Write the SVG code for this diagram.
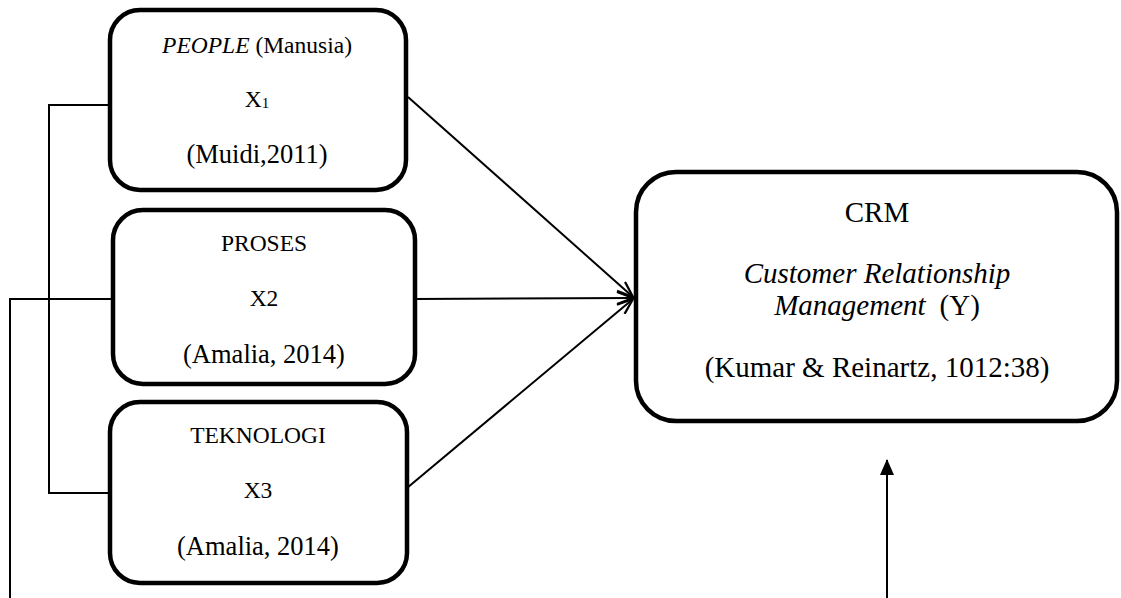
<svg xmlns="http://www.w3.org/2000/svg" width="1121" height="598" viewBox="0 0 1121 598">
<style>
.box{fill:#fff;stroke:#000;stroke-width:4.5}
.t{font-family:"Liberation Serif","Times New Roman",serif;fill:#000;text-anchor:middle}
.s{font-size:23.5px}
.b{font-size:26.5px}
.c{font-size:29px}
.ln{stroke:#000;stroke-width:2;fill:none}
</style>
<defs>
<marker id="open" viewBox="0 0 18 14" refX="17" refY="7" markerWidth="18" markerHeight="14" markerUnits="userSpaceOnUse" orient="auto">
<path d="M1,1 L17,7 L1,13" fill="none" stroke="#000" stroke-width="2.2"/>
</marker>
<marker id="solid" viewBox="0 0 16 14" refX="15" refY="7" markerWidth="16" markerHeight="14" markerUnits="userSpaceOnUse" orient="auto">
<path d="M0,0 L16,7 L0,14 Z" fill="#000"/>
</marker>
</defs>
<g id="connectors">
<path class="ln" d="M110,105 H49 V493 H110"/>
<path class="ln" d="M113,299 H10 V598"/>
<line class="ln" x1="408" y1="97" x2="633" y2="297" marker-end="url(#open)"/>
<line class="ln" x1="415" y1="299" x2="633" y2="298" marker-end="url(#open)"/>
<line class="ln" x1="407" y1="488" x2="633" y2="299" marker-end="url(#open)"/>
<line class="ln" x1="887" y1="598" x2="887" y2="460" marker-end="url(#solid)"/>
</g>
<g id="people">
<rect class="box" x="110" y="10" width="296" height="180" rx="30"/>
<text class="t s" x="257" y="53"><tspan font-style="italic">PEOPLE</tspan> (Manusia)</text>
<text class="t s" x="257" y="107">X<tspan font-size="15" dy="1">1</tspan></text>
<text class="t b" x="257" y="163">(Muidi,2011)</text>
</g>
<g id="proses">
<rect class="box" x="113" y="210" width="302" height="174" rx="30"/>
<text class="t s" x="264" y="251">PROSES</text>
<text class="t s" x="264" y="306">X2</text>
<text class="t b" x="264" y="363">(Amalia, 2014)</text>
</g>
<g id="teknologi">
<rect class="box" x="110" y="402" width="297" height="181" rx="30"/>
<text class="t s" x="258" y="443">TEKNOLOGI</text>
<text class="t s" x="258" y="498">X3</text>
<text class="t b" x="258" y="555">(Amalia, 2014)</text>
</g>
<g id="crm">
<rect class="box" x="636" y="172" width="481" height="249" rx="40"/>
<text class="t c" x="877" y="222">CRM</text>
<text class="t c" x="877" y="283" font-style="italic">Customer Relationship</text>
<text class="t c" x="877" y="315"><tspan font-style="italic">Management</tspan><tspan dx="14">(Y)</tspan></text>
<text class="t c" x="877" y="377">(Kumar &amp; Reinartz, 1012:38)</text>
</g>
</svg>
